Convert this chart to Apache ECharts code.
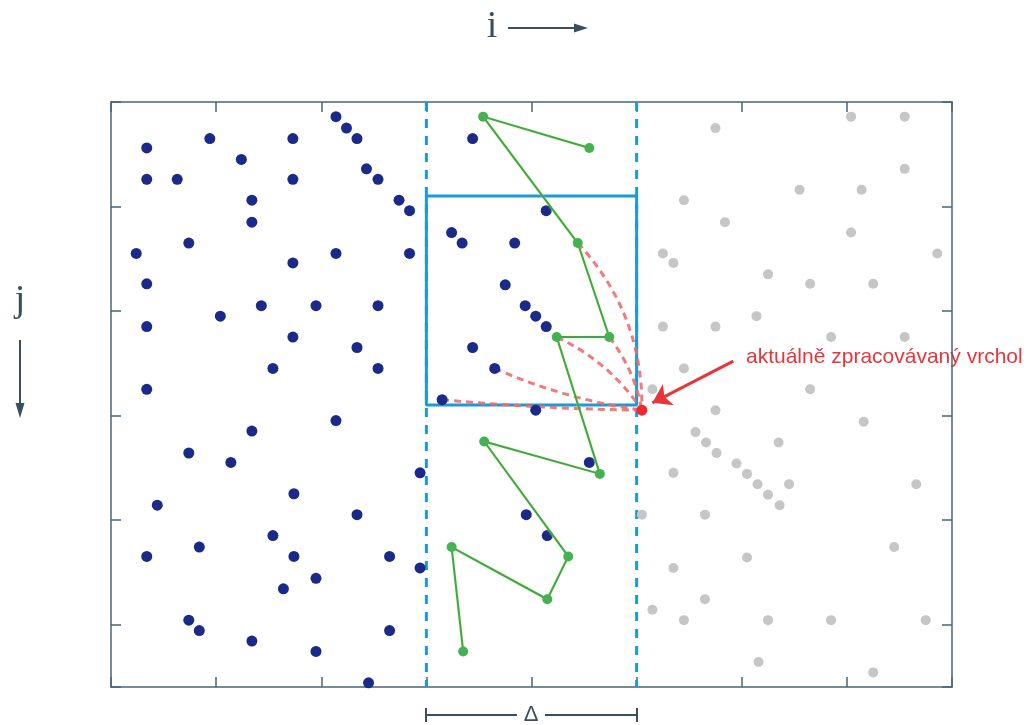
<!DOCTYPE html>
<html><head><meta charset="utf-8">
<script src="https://cdn.jsdelivr.net/npm/echarts@6/dist/echarts.min.js"></script>
<style>html,body{margin:0;padding:0;background:#fff}#c{width:1032px;height:725px}</style>
</head><body><div id="c"></div>
<script>
// ---- data (i = column, j = row; j grows downward) ----
const blueNodes = [
  [2.14,0.14],[2.24,0.25],[2.34,0.35],[0.94,0.35],[1.73,0.35],[0.34,0.44],[1.24,0.55],
  [0.34,0.74],[0.63,0.74],[1.73,0.74],[2.43,0.64],[2.54,0.74],[1.34,0.94],[2.74,0.94],
  [2.84,1.04],[1.34,1.15],[0.74,1.35],[0.24,1.45],[2.14,1.45],[2.84,1.45],[1.73,1.54],
  [0.34,1.74],[1.43,1.95],[1.95,1.95],[2.54,1.95],[1.04,2.05],[0.34,2.15],[1.73,2.25],
  [2.34,2.35],[1.54,2.55],[2.54,2.55],[0.34,2.75],[2.14,3.05],[1.34,3.15],[0.74,3.36],
  [1.14,3.45],[2.94,3.55],[1.74,3.75],[0.44,3.86],[2.34,3.95],[1.54,4.15],[0.84,4.26],
  [0.34,4.35],[1.74,4.35],[2.65,4.35],[2.94,4.46],[1.95,4.56],[1.64,4.66],[0.74,4.96],
  [0.84,5.06],[2.65,5.06],[1.34,5.16],[1.95,5.26],[2.45,5.56],
  [3.44,0.35],[4.14,1.04],[3.24,1.25],[3.34,1.35],[3.84,1.35],[3.75,1.75],[3.94,1.95],
  [4.04,2.05],[4.14,2.15],[3.44,2.35],[3.65,2.55],[3.15,2.85],[4.04,2.95],[4.55,3.45],
  [3.95,3.95],[4.15,4.15]
];
const grayNodes = [
  [7.04,0.14],[7.55,0.14],[5.75,0.25],[7.55,0.64],[6.55,0.84],[7.14,0.84],[5.45,0.94],
  [5.84,1.15],[7.04,1.25],[5.25,1.45],[5.35,1.54],[7.86,1.45],[6.25,1.65],[6.65,1.74],
  [7.25,1.74],[6.14,2.05],[5.25,2.15],[5.75,2.15],[6.85,2.25],[7.55,2.25],[5.45,2.55],
  [5.15,2.75],[6.65,2.75],[5.75,2.95],[7.16,3.06],[5.56,3.16],[5.66,3.26],[6.35,3.26],
  [5.76,3.36],[5.95,3.46],[6.05,3.56],[5.35,3.55],[6.15,3.66],[6.45,3.66],[7.66,3.66],
  [6.25,3.76],[6.36,3.86],[5.05,3.95],[5.65,3.95],[7.45,4.26],[6.05,4.36],[5.35,4.46],
  [5.65,4.76],[5.15,4.86],[5.45,4.96],[6.25,4.96],[6.85,4.96],[7.75,4.96],[6.16,5.36],
  [7.25,5.46]
];
const greenPath = [
  [4.55,0.44],[3.54,0.14],[4.44,1.35],[4.74,2.25],[4.24,2.25],[4.65,3.56],
  [3.55,3.25],[4.35,4.35],[4.15,4.76],[3.24,4.26],[3.35,5.26]
];
const currentNode = [5.05,2.95];
const candidateNodes = [[4.44,1.35],[4.74,2.25],[4.24,2.25],[3.65,2.55],[3.15,2.85]];
const windowBox = [[3,0.9],[5,0.9],[5,2.9],[3,2.9],[3,0.9]];
const stripLeft = [[3,0],[3,5.6]];
const stripRight = [[5,0],[5,5.6]];
const pointerFrom = [5.92,2.48];
const pointerTo = [5.15,2.88];
const pointerText = 'aktuálně zpracovávaný vrchol';
const xRange = [0, 8];
const yRange = [0, 5.6];

// ---- styles ----
const linkCurveness = [0.2, 0.12, 0.14, -0.07, -0.02];
const axisColor = '#4b6575';
const stripBlue = '#1b9ad8';
const inkColor = '#3a4f5e';

const axisCommon = {
  type: 'value', interval: 1,
  axisLine: { show: true, onZero: false, lineStyle: { color: axisColor, width: 1.5 } },
  axisTick: { show: true, inside: true, length: 10, lineStyle: { color: axisColor, width: 1.5 } },
  axisLabel: { show: false }, splitLine: { show: false }
};

const chart = echarts.init(document.getElementById('c'), null, { renderer: 'canvas' });
chart.setOption({
  animation: false,
  backgroundColor: '#ffffff',
  grid: { left: 111, right: 80, top: 102, bottom: 38 },
  xAxis: [
    Object.assign({}, axisCommon, { position: 'bottom', min: xRange[0], max: xRange[1] }),
    Object.assign({}, axisCommon, { position: 'top', min: xRange[0], max: xRange[1] })
  ],
  yAxis: [
    Object.assign({}, axisCommon, { position: 'left', inverse: true, min: yRange[0], max: yRange[1] }),
    Object.assign({}, axisCommon, { position: 'right', inverse: true, min: yRange[0], max: yRange[1] })
  ],
  series: [
    { type: 'line', data: stripLeft, symbol: 'none', z: 2,
      lineStyle: { color: stripBlue, width: 3, type: [9, 8] } },
    { type: 'line', data: stripRight, symbol: 'none', z: 2,
      lineStyle: { color: stripBlue, width: 3, type: [9, 8] } },
    { type: 'line', data: windowBox, symbol: 'none', z: 3,
      lineStyle: { color: stripBlue, width: 3 } },
    { type: 'lines', coordinateSystem: 'cartesian2d', z: 4,
      lineStyle: { color: '#f06c6c', width: 3, type: [7, 5], opacity: 0.9 },
      data: candidateNodes.map((p, k) => ({ coords: [p, currentNode], lineStyle: { curveness: linkCurveness[k] } })) },
    { type: 'scatter', data: grayNodes, symbolSize: 10, z: 5,
      itemStyle: { color: '#c6c6c6', opacity: 1 } },
    { type: 'scatter', data: blueNodes, symbolSize: 11, z: 6,
      itemStyle: { color: '#1b2a88', opacity: 1 } },
    { type: 'line', data: greenPath, symbol: 'circle', symbolSize: 10, z: 7,
      lineStyle: { color: '#3aa752', width: 2, shadowColor: 'rgba(230,225,90,0.7)', shadowBlur: 2 },
      itemStyle: { color: '#45b251', opacity: 1 } },
    { type: 'scatter', data: [currentNode], symbolSize: 11, z: 8,
      itemStyle: { color: '#ec2a2f', opacity: 1 } },
    { type: 'lines', coordinateSystem: 'cartesian2d', z: 8,
      symbol: ['none', 'arrow'], symbolSize: 18,
      lineStyle: { color: '#e8353b', width: 3, curveness: 0, opacity: 1 },
      data: [{ coords: [pointerFrom, pointerTo] }] }
  ],
  graphic: [
    { type: 'text', style: { text: pointerText, x: 746, y: 357, fill: '#e8353b',
        font: '21px "Liberation Sans", Arial, sans-serif', textVerticalAlign: 'middle' } },
    { type: 'text', style: { text: 'i', x: 492, y: 27, fill: inkColor, textAlign: 'center',
        font: '38px "Liberation Serif", "DejaVu Serif", serif', textVerticalAlign: 'middle' } },
    { type: 'line', shape: { x1: 508, y1: 28, x2: 580, y2: 28 }, style: { stroke: inkColor, lineWidth: 2 } },
    { type: 'polygon', shape: { points: [[574, 23.5], [588, 28], [574, 32.5]] }, style: { fill: inkColor } },
    { type: 'text', style: { text: 'j', x: 20, y: 301, fill: inkColor, textAlign: 'center',
        font: '38px "Liberation Serif", "DejaVu Serif", serif', textVerticalAlign: 'middle' } },
    { type: 'line', shape: { x1: 20, y1: 340, x2: 20, y2: 410 }, style: { stroke: inkColor, lineWidth: 2 } },
    { type: 'polygon', shape: { points: [[15.5, 403], [20, 418], [24.5, 403]] }, style: { fill: inkColor } },
    { type: 'line', shape: { x1: 426, y1: 715, x2: 517, y2: 715 }, style: { stroke: inkColor, lineWidth: 2 } },
    { type: 'line', shape: { x1: 545, y1: 715, x2: 637, y2: 715 }, style: { stroke: inkColor, lineWidth: 2 } },
    { type: 'line', shape: { x1: 426, y1: 708, x2: 426, y2: 722 }, style: { stroke: inkColor, lineWidth: 2 } },
    { type: 'line', shape: { x1: 637, y1: 708, x2: 637, y2: 722 }, style: { stroke: inkColor, lineWidth: 2 } },
    { type: 'text', style: { text: 'Δ', x: 531, y: 715, fill: inkColor, textAlign: 'center',
        font: '22px "Liberation Sans", Arial, sans-serif', textVerticalAlign: 'middle' } }
  ]
});
</script>
</body></html>
